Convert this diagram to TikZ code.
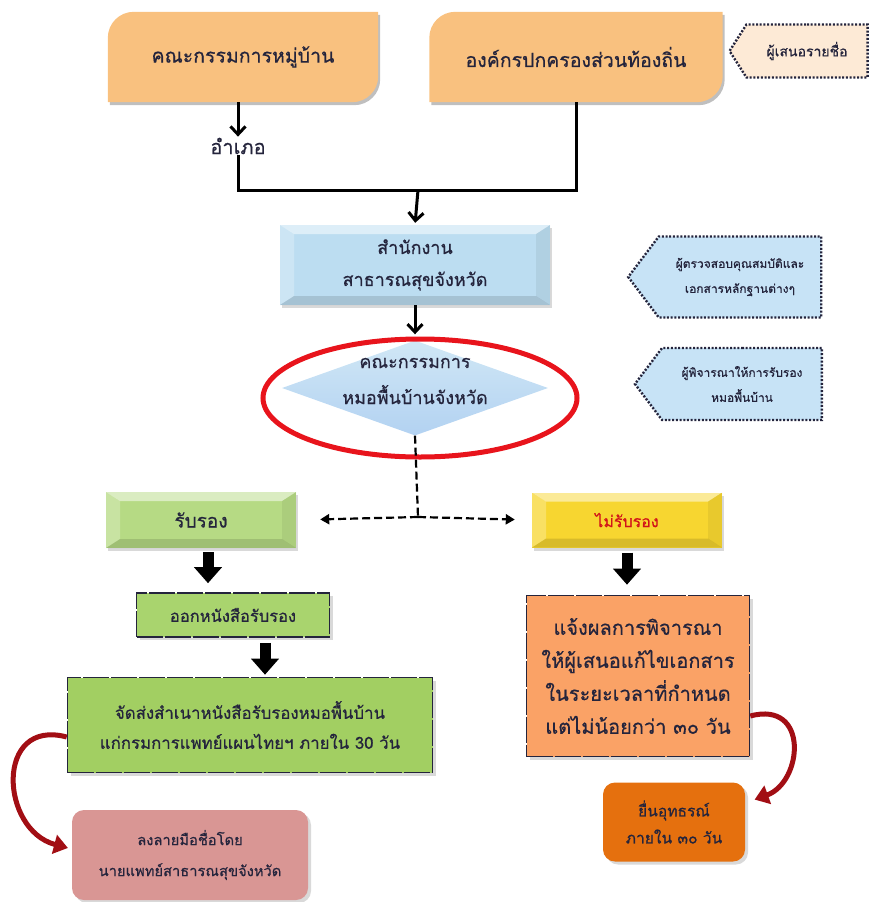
\documentclass[tikz,border=0pt]{standalone}
\usepackage{fontspec}
\setmainfont[Script=Thai, FakeBold=0.6]{Loma}
\usetikzlibrary{shapes.geometric,shapes.symbols,arrows.meta,shadows,backgrounds}

\definecolor{ink}{HTML}{24243C}
\definecolor{tabtan}{HTML}{F9C17F}
\definecolor{notepeach}{HTML}{FDEAD6}
\definecolor{noteblue}{HTML}{C7E3F6}
\definecolor{officeblue}{HTML}{BCDDF1}
\definecolor{leafgreen}{HTML}{A9D46E}
\definecolor{sendgreen}{HTML}{A2CF62}
\definecolor{rosepink}{HTML}{D99694}
\definecolor{lemon}{HTML}{F7D630}
\definecolor{salmon}{HTML}{FAA266}
\definecolor{rust}{HTML}{E5700E}
\definecolor{ringred}{HTML}{E8141C}
\definecolor{wine}{HTML}{A20E14}

% tab shape: round top-left and bottom-right corners
\newcommand\tabfill[2]{%
  \fill[black!25, transform canvas={shift={(2pt,-3pt)}}] (#1.south west) -- ([yshift=-26pt]#1.north west)
     arc[start angle=180, end angle=90, radius=26pt] -- (#1.north east) -- ([yshift=26pt]#1.south east)
     arc[start angle=0, end angle=-90, radius=26pt] -- cycle;
  \fill[#2] (#1.south west) -- ([yshift=-26pt]#1.north west)
     arc[start angle=180, end angle=90, radius=26pt] -- (#1.north east) -- ([yshift=26pt]#1.south east)
     arc[start angle=0, end angle=-90, radius=26pt] -- cycle;}

\begin{document}
\begin{tikzpicture}[x=1pt, y=1pt,
    txt/.style={align=center, text=ink, font=\fontsize{15}{31}\selectfont},
    tab/.style={txt, minimum width=#1, minimum height=90, font=\fontsize{19.5}{24}\selectfont},
    bevel/.style={path picture={
      \path (path picture bounding box.north west) coordinate (bvnw)
            (path picture bounding box.south east) coordinate (bvse);
      \fill[white, opacity=.5] (bvnw) -- (bvnw -| bvse) -- ++(-14pt,-9pt) -- ([shift={(14pt,-9pt)}]bvnw) -- cycle;
      \fill[white, opacity=.25] (bvnw) -- ([shift={(14pt,-9pt)}]bvnw) -- ([shift={(14pt,9pt)}]bvnw |- bvse) -- (bvnw |- bvse) -- cycle;
      \fill[black, opacity=.12] (bvnw |- bvse) -- (bvse) -- ++(-14pt,9pt) -- ([shift={(14pt,9pt)}]bvnw |- bvse) -- cycle;
      \fill[black, opacity=.06] (bvse) -- (bvnw -| bvse) -- ++(-14pt,-9pt) -- ([shift={(-14pt,9pt)}]bvse) -- cycle;}},
    slab/.style={txt, fill=#1, bevel, drop shadow={shadow xshift=2pt, shadow yshift=-3pt, opacity=.3}},
    plate/.style={txt, fill=#1, draw=ink, line width=1.6pt, dash pattern=on 26pt off 2pt,
                  drop shadow={shadow xshift=3pt, shadow yshift=-3pt, opacity=.3}},
    pill/.style={txt, fill=#1, rounded corners=12pt,
                 drop shadow={shadow xshift=3pt, shadow yshift=-3pt, opacity=.3}},
    note/.style={signal, signal to=west, fill=#1, draw=ink, line width=2.4pt, dash pattern=on 2pt off 1.7pt,
                 txt, font=\fontsize{12}{25}\selectfont, inner sep=2pt},
    flow/.style={line width=3pt, -{Straight Barb[length=8pt, width=15pt]}},
    rail/.style={line width=3pt},
    dashflow/.style={line width=2.2pt, dash pattern=on 8pt off 4pt, -{Triangle[length=9pt, width=10pt]}},
    blockflow/.style={line width=11pt, -{Triangle[length=16pt, width=27pt]}},
    bendflow/.style={wine, line width=5pt, -{Triangle[length=14pt, width=19pt]}},
  ]
  \useasboundingbox (0,0) rectangle (876,-902);

  % proposers
  \node[tab=270] (vill) at (243,-57) {คณะกรรมการหมู่บ้าน};
  \node[tab=293] (lao) at (576,-57) {องค์กรปกครองส่วนท้องถิ่น};
  \begin{scope}[on background layer]
    \tabfill{vill}{tabtan}
    \tabfill{lao}{tabtan}
  \end{scope}
  \node[note=notepeach, minimum width=138, minimum height=53, signal pointer angle=115,
        font=\fontsize{14}{18}\selectfont] (proposer) at (807,-51) {ผู้เสนอรายชื่อ};

  \node[txt, font=\fontsize{20}{24}\selectfont, inner sep=1pt] (amphoe) at (238,-146) {อำเภอ};
  \coordinate (join) at (418,-190);
  \draw[flow] (vill.south -| amphoe) -- (amphoe.north);
  \draw[rail] (amphoe.south) |- (lao.south |- join) -- (lao.south);

  % checking
  \node[slab=officeblue, minimum width=270, minimum height=80, font=\fontsize{18}{32}\selectfont] (office) at (415,-265)
       {สำนักงาน\\สาธารณสุขจังหวัด};
  \node[diamond, top color=officeblue!70, bottom color=officeblue!95!blue, minimum width=266, minimum height=95,
        inner sep=0pt] (dia) at (415,-388) {};
  \node[txt, font=\fontsize{18}{36}\selectfont] (diatext) at (415,-381) {คณะกรรมการ\\หมอพื้นบ้านจังหวัด};
  \node[ellipse, draw=ringred, line width=5pt, minimum width=314, minimum height=118] (ring) at (420,-398) {};
  \node[note=noteblue, minimum width=193, minimum height=81, signal pointer angle=106] (checker) at (740,-277)
       {ผู้ตรวจสอบคุณสมบัติและ\\เอกสารหลักฐานต่างๆ};
  \node[note=noteblue, minimum width=187, minimum height=72, signal pointer angle=106] (judge) at (742,-384)
       {ผู้พิจารณาให้การรับรอง\\หมอพื้นบ้าน};

  \draw[flow, shorten >=2pt] (join) -- (office.north);
  \draw[flow, shorten >=6pt] (office.south) -- (dia.north);

  % decision
  \coordinate (split) at (418,-517);
  \node[slab=leafgreen!85, minimum width=190, minimum height=56, font=\fontsize{19}{24}\selectfont] (rub) at (201,-520) {รับรอง};
  \node[slab=lemon, minimum width=190, minimum height=55, text=ringred!90!black, font=\fontsize{16}{24}\selectfont]
       (norub) at (627,-520) {ไม่รับรอง};
  \draw[line width=2.2pt, dash pattern=on 8pt off 4pt] (dia.south) -- (split);
  \draw[dashflow, shorten >=24pt] (split) -- (rub.east);
  \draw[dashflow, shorten >=17pt] (split) -- (norub.west);

  % accepted
  \node[plate=leafgreen, minimum width=193, minimum height=44, font=\fontsize{16.5}{24}\selectfont] (issue) at (233,-615)
       {ออกหนังสือรับรอง};
  \node[plate=sendgreen, minimum width=365, minimum height=95, font=\fontsize{16.8}{30}\selectfont] (send) at (250,-725)
       {จัดส่งสำเนาหนังสือรับรองหมอพื้นบ้าน\\แก่กรมการแพทย์แผนไทยฯ ภายใน 30 วัน};
  \node[pill=rosepink, minimum width=236, minimum height=90, font=\fontsize{14.7}{31}\selectfont] (sign) at (190,-855)
       {ลงลายมือชื่อโดย\\นายแพทย์สาธารณสุขจังหวัด};
  \draw[blockflow, shorten <=4pt, shorten >=9pt] ([xshift=7pt]rub.south) -- ([xshift=7pt]rub.south |- issue.north);
  \draw[blockflow, shorten <=5pt, shorten >=2pt] ([xshift=32pt]issue.south) -- ([xshift=32pt]issue.south |- send.north);
  \draw[bendflow, shorten >=4pt] ([yshift=-12pt]send.west) to[out=165, in=165, looseness=1.7] ([yshift=6pt]sign.west);

  % not accepted
  \node[plate=salmon, minimum width=223, minimum height=161, font=\fontsize{20}{33}\selectfont] (notify) at (638,-676)
       {แจ้งผลการพิจารณา\\ให้ผู้เสนอแก้ไขเอกสาร\\ในระยะเวลาที่กำหนด\\แต่ไม่น้อยกว่า ๓๐ วัน};
  \node[pill=rust, minimum width=142, minimum height=79, font=\fontsize{15.6}{27}\selectfont] (appeal) at (674,-822)
       {ยื่นอุทธรณ์\\ภายใน ๓๐ วัน};
  \draw[blockflow, shorten <=5pt, shorten >=10pt] (norub.south) -- (norub.south |- notify.north);
  \draw[bendflow, shorten >=10pt] ([yshift=-40pt]notify.east) to[out=15, in=20, looseness=1.8] ([yshift=19pt]appeal.east);
\end{tikzpicture}
\end{document}
